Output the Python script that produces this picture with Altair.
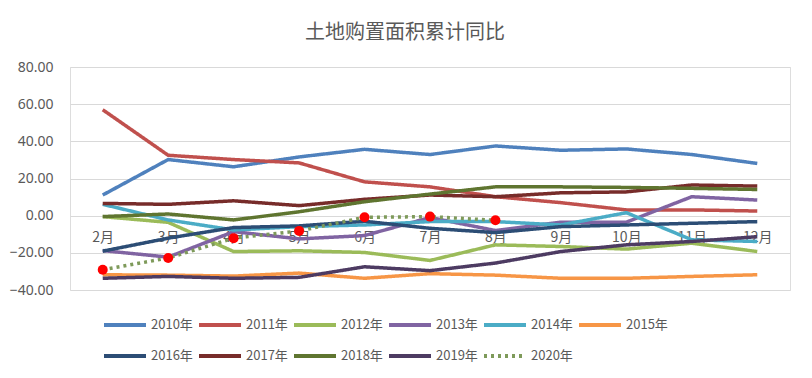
import altair as alt
import pandas as pd

months = ["2月", "3月", "4月", "5月", "6月", "7月", "8月", "9月", "10月", "11月", "12月"]
years = ["2010年", "2011年", "2012年", "2013年", "2014年", "2015年",
         "2016年", "2017年", "2018年", "2019年", "2020年"]

v2010 = [11.1, 30.2, 26.3, 31.6, 35.7, 32.9, 37.5, 35.2, 35.9, 32.9, 28.1]
v2011 = [57.0, 32.5, 30.2, 28.4, 18.2, 15.5, 10.2, 7.0, 3.1, 3.1, 2.5]
v2012 = [-0.5, -3.6, -19.3, -18.9, -19.8, -24.1, -15.7, -16.6, -18.0, -14.8, -19.3]
v2013 = [-18.8, -22.3, -8.6, -12.5, -10.7, -1.0, -8.0, -3.5, -3.5, 10.2, 8.4]
v2014 = [6.1, -2.3, -7.7, -5.9, -5.0, -3.2, -3.2, -5.0, 1.6, -13.0, -13.9]
v2015 = [-31.8, -32.0, -32.5, -30.9, -33.7, -31.2, -32.0, -33.7, -33.7, -32.7, -31.8]
v2016 = [-19.1, -12.1, -6.4, -5.5, -3.0, -6.8, -9.1, -5.9, -5.0, -4.1, -3.2]
v2017 = [6.6, 6.1, 8.0, 5.4, 8.8, 11.1, 10.2, 12.3, 12.8, 16.5, 15.9]
v2018 = [-0.5, 0.9, -2.3, 2.1, 7.5, 11.6, 15.5, 15.5, 15.2, 14.7, 14.1]
v2019 = [-33.7, -32.7, -33.7, -33.2, -27.5, -29.6, -25.5, -19.3, -15.7, -13.9, -11.3]
v2020 = [-29.1, -22.8, -12.1, -8.2, -0.9, -0.5, -2.5]

series = [v2010, v2011, v2012, v2013, v2014, v2015, v2016, v2017, v2018, v2019, v2020]
colors = ["#4F81BD", "#C0504D", "#9BBB59", "#8064A2", "#4BACC6", "#F79646",
          "#2C4D75", "#772C2A", "#5F7530", "#4D3B62", "#7E9A5A"]
dashes = [[1, 0]] * 10 + [[3, 4]]
y_ticks = [-40, -20, 0, 20, 40, 60, 80]

rows = []
for yr, vals in zip(years, series):
    for m, v in zip(months, vals):
        rows.append({"year": yr, "month": m, "value": v})
df = pd.DataFrame(rows)

x_enc = alt.X("month:O", sort=months, title=None,
              scale=alt.Scale(domain=months),
              axis=alt.Axis(orient="bottom", offset=-74, domain=False, ticks=False,
                            labelAngle=0, labelPadding=14, labelFontSize=14,
                            labelColor="#595959", labelFont="Noto Sans CJK SC"))
y_enc = alt.Y("value:Q", title=None,
              scale=alt.Scale(domain=[-40, 80], nice=False, zero=False),
              axis=alt.Axis(values=y_ticks, format=".2f", domain=False, ticks=False,
                            labelOverlap=False, tickCount=7,
                            labelPadding=17, labelFontSize=14, labelColor="#595959",
                            gridColor="#D9D9D9", gridWidth=1, labelFont="Noto Sans"))

base = alt.Chart(df).encode(x=x_enc, y=y_enc)

lines = base.mark_line(strokeWidth=3.5, strokeJoin="round").encode(
    color=alt.Color("year:N", sort=years, title=None,
                    scale=alt.Scale(domain=years, range=colors),
                    legend=alt.Legend(orient="none", legendX=32, legendY=235,
                                      direction="horizontal",
                                      columns=6, symbolType="stroke", symbolSize=1764,
                                      symbolStrokeWidth=4, labelFontSize=13,
                                      labelColor="#595959", columnPadding=-2,
                                      rowPadding=-15, labelOffset=3,
                                      labelFont="Noto Sans CJK SC")),
    strokeDash=alt.StrokeDash("year:N", sort=years, title=None,
                              scale=alt.Scale(domain=years, range=dashes)),
    order=alt.Order("year:N"),
)

pts = base.transform_filter(alt.datum.year == "2020年").mark_point(
    filled=True, size=100, color="#FF0000", opacity=1
)

chart = alt.layer(lines, pts).properties(
    width=720, height=223,
    autosize=alt.AutoSizeParams(type="none"),
    padding={"left": 70, "top": 67, "right": 22, "bottom": 88},
    title=alt.TitleParams("土地购置面积累计同比", fontSize=20, color="#595959",
                          font="Noto Sans CJK SC", fontWeight="normal",
                          anchor="middle", dx=-25, offset=17),
).configure_view(stroke=None).configure(background="white")

chart.save("out.html", embed_options={"renderer": "svg", "actions": False})
